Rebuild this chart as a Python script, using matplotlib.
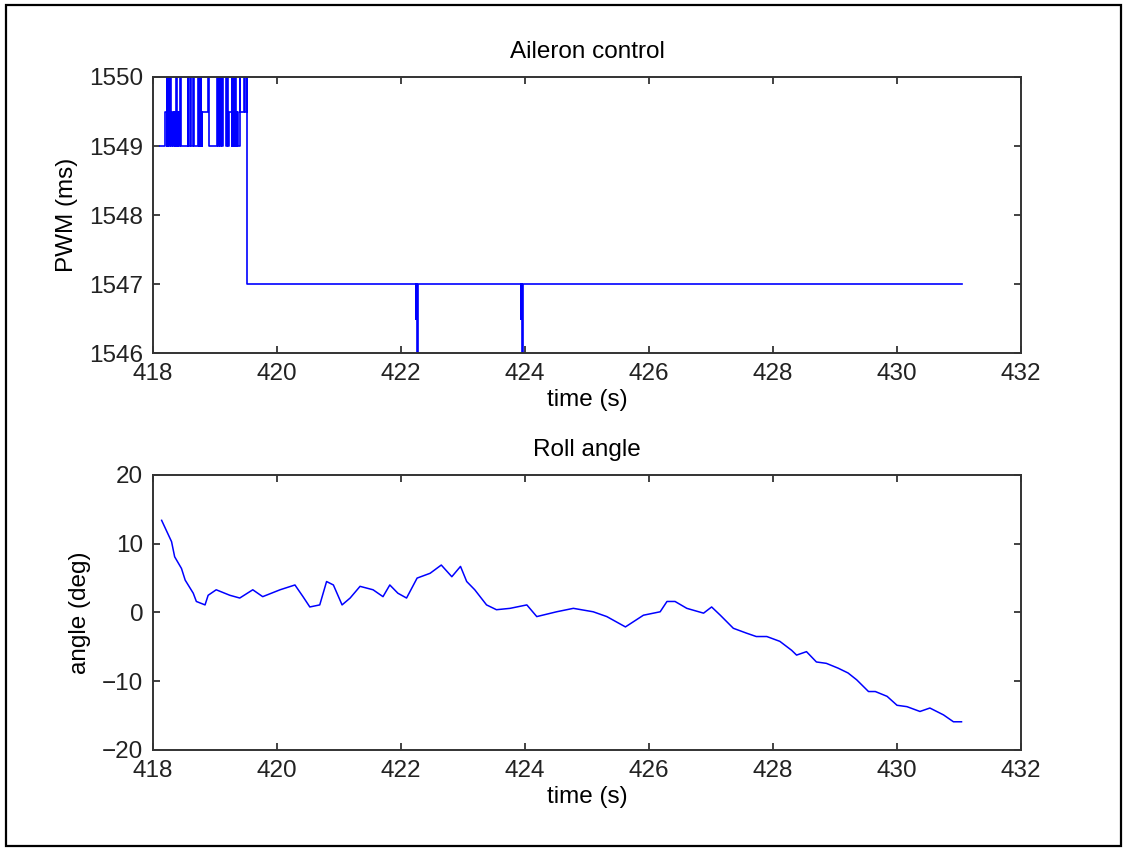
import matplotlib.pyplot as plt
from matplotlib.patches import Rectangle

# aileron PWM command (step data)
pwm_t = [418.11, 418.20,
         418.22, 418.225, 418.23, 418.235, 418.24, 418.245, 418.25, 418.255,
         418.26, 418.265, 418.27, 418.275, 418.28, 418.285, 418.29, 418.295,
         418.30, 418.31, 418.315, 418.32, 418.325, 418.33, 418.34, 418.35,
         418.355, 418.37, 418.38, 418.39, 418.40, 418.41, 418.42, 418.44, 418.45,
         418.56, 418.57, 418.60, 418.61, 418.65, 418.66,
         418.73, 418.735, 418.74, 418.745, 418.75, 418.755, 418.76, 418.765,
         418.77, 418.775, 418.78, 418.785, 418.79,
         418.89, 418.90, 419.04, 419.045, 419.05, 419.055, 419.06, 419.08,
         419.09, 419.12, 419.13, 419.18, 419.19, 419.21, 419.22,
         419.27, 419.275, 419.28, 419.285, 419.29, 419.295, 419.30, 419.305,
         419.31, 419.315, 419.32, 419.325, 419.33, 419.335, 419.34, 419.345,
         419.35, 419.36, 419.37, 419.40, 419.41, 419.47, 419.48, 419.51, 419.52,
         422.24, 422.25, 422.26, 422.27, 422.28,
         423.93, 423.94, 423.95, 423.96, 423.97,
         431.05]
pwm_v = [1549, 1549.5,
         1550, 1549, 1550, 1549.5, 1550, 1549, 1550, 1549.5,
         1550, 1549, 1550, 1549, 1550, 1549.5, 1550, 1549,
         1549.5, 1549, 1549.5, 1549, 1549.5, 1549, 1549.5, 1549,
         1549.5, 1550, 1549, 1549.5, 1549, 1549.5, 1549, 1550, 1549,
         1550, 1549, 1550, 1549, 1550, 1549,
         1550, 1549, 1550, 1549.5, 1550, 1549, 1550, 1549.5,
         1550, 1549, 1549.5, 1549, 1549.5,
         1550, 1549, 1550, 1549, 1550, 1549, 1550, 1549,
         1550, 1549, 1550, 1549, 1550, 1549, 1549.5,
         1550, 1549, 1550, 1549.5, 1550, 1549, 1550, 1549.5,
         1550, 1549, 1550, 1549.5, 1550, 1549, 1550, 1549.5,
         1549, 1549.5, 1549, 1550, 1549.5, 1550, 1549.5, 1550, 1547,
         1546.5, 1547, 1546, 1547, 1547,
         1546.5, 1547, 1546, 1547, 1547,
         1547]

# roll angle
roll_t = [418.14, 418.30, 418.35, 418.46, 418.52, 418.65, 418.70, 418.84, 418.89,
          419.02, 419.24, 419.40, 419.61, 419.77, 420.05, 420.29, 420.42, 420.53,
          420.69, 420.80, 420.91, 421.05, 421.18, 421.34, 421.55, 421.71, 421.82,
          421.95, 422.09, 422.26, 422.47, 422.65, 422.82, 422.96, 423.06, 423.19,
          423.38, 423.54, 423.76, 424.03, 424.19, 424.51, 424.78, 425.10, 425.32,
          425.62, 425.91, 426.18, 426.29, 426.42, 426.61, 426.88, 427.01, 427.15,
          427.36, 427.57, 427.73, 427.90, 428.11, 428.30, 428.38, 428.54, 428.70,
          428.86, 429.05, 429.21, 429.35, 429.54, 429.65, 429.84, 430.00, 430.16,
          430.37, 430.53, 430.75, 430.91, 431.04]
roll_v = [13.4, 10.3, 8.1, 6.4, 4.7, 2.8, 1.6, 1.1, 2.5,
          3.3, 2.5, 2.1, 3.3, 2.3, 3.3, 4.0, 2.3, 0.8,
          1.1, 4.5, 4.0, 1.1, 2.1, 3.8, 3.3, 2.3, 4.0,
          2.8, 2.1, 5.0, 5.7, 6.9, 5.2, 6.7, 4.5, 3.3,
          1.1, 0.4, 0.6, 1.1, -0.6, 0.1, 0.6, 0.1, -0.6,
          -2.1, -0.4, 0.1, 1.6, 1.6, 0.6, -0.1, 0.8, -0.4,
          -2.3, -3.0, -3.5, -3.5, -4.2, -5.5, -6.2, -5.7, -7.2,
          -7.4, -8.1, -8.8, -9.8, -11.5, -11.5, -12.2, -13.5, -13.7,
          -14.4, -13.9, -14.9, -15.9, -15.9]

plt.rcParams['font.family'] = ['Liberation Sans', 'DejaVu Sans']
plt.rcParams['font.size'] = 17.5

fig = plt.figure(figsize=(11.23, 8.48), dpi=100)
fig.patches.append(Rectangle((6 / 1123, 2 / 848), 1115 / 1123, 841 / 848,
                             transform=fig.transFigure, fill=False,
                             edgecolor='black', linewidth=1.6))

ax1 = fig.add_axes([0.1362, 0.5837, 0.7730, 0.3255])
ax2 = fig.add_axes([0.1362, 0.1156, 0.7730, 0.3243])

ax1.plot(pwm_t, pwm_v, color='blue', linewidth=1.2, drawstyle='steps-post')
ax1.set_xlim(418, 432)
ax1.set_ylim(1546, 1550)
ax1.set_yticks([1546, 1547, 1548, 1549, 1550])
ax1.set_title('Aileron control', fontsize=17.5, pad=14)
ax1.set_xlabel('time (s)', labelpad=3)
ax1.set_ylabel('PWM (ms)', labelpad=8)

ax2.plot(roll_t, roll_v, color='blue', linewidth=1.1)
ax2.set_xlim(418, 432)
ax2.set_ylim(-20, 20)
ax2.set_yticks([-20, -10, 0, 10, 20])
ax2.set_title('Roll angle', fontsize=17.5, pad=14)
ax2.set_xlabel('time (s)', labelpad=3)
ax2.set_ylabel('angle (deg)', labelpad=8)

for ax in (ax1, ax2):
    ax.set_xticks(range(418, 433, 2))
    ax.tick_params(direction='in', length=5, width=1.2, top=True, right=True,
                   colors='#222222', pad=7)
    for s in ax.spines.values():
        s.set_linewidth(1.4)
        s.set_color('#333333')

fig.savefig('out.png', dpi=100)
